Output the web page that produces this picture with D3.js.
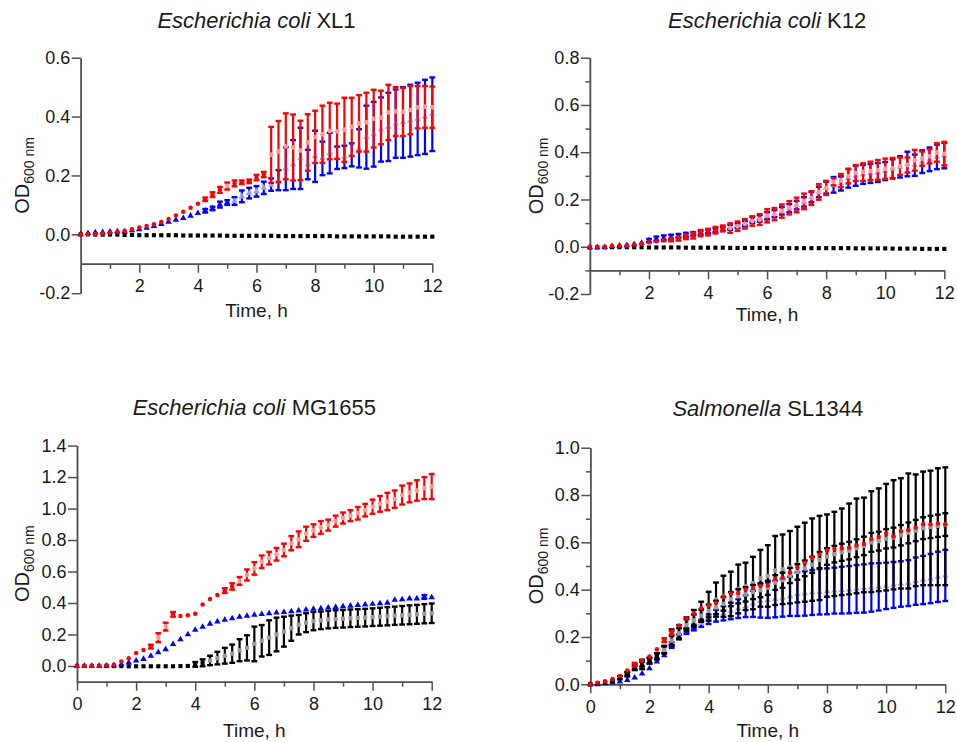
<!DOCTYPE html>
<html>
<head>
<meta charset="utf-8">
<script src="https://cdn.jsdelivr.net/npm/d3@7"></script>
<style>
  body { margin: 0; background: #fff; }
  svg text { font-family: "Liberation Sans", Arial, Helvetica, sans-serif; fill: #1a1a1a; }
</style>
</head>
<body>
<svg id="chart" width="957" height="742"></svg>
<script>
// Sampling times (h)
const hours = [0,0.25,0.5,0.75,1,1.25,1.5,1.75,2,2.25,2.5,2.75,3,3.25,3.5,3.75,
  4,4.25,4.5,4.75,5,5.25,5.5,5.75,6,6.25,6.5,6.75,7,7.25,7.5,7.75,
  8,8.25,8.5,8.75,9,9.25,9.5,9.75,10,10.25,10.5,10.75,11,11.25,11.5,11.75,12];

// Strain titles: italic genus/species part, then strain designation
const strainTitles = [
  ["Escherichia coli", " XL1"],
  ["Escherichia coli", " K12"],
  ["Escherichia coli", " MG1655"],
  ["Salmonella", " SL1344"]
];

// ---- E. coli XL1 (OD600 mean and SD) ----
const xl1Red = [0,0.001,0.001,0.003,0.006,0.009,0.012,0.017,0.023,0.028,0.034,0.042,0.052,0.064,0.077,0.09,
  0.104,0.119,0.135,0.151,0.164,0.173,0.177,0.18,0.193,0.203,0.27,0.281,0.299,0.295,0.285,0.312,
  0.331,0.34,0.351,0.35,0.355,0.365,0.377,0.381,0.393,0.397,0.414,0.417,0.416,0.422,0.432,0.433,0.432];
const xl1RedSd = [0.002,0.002,0.002,0.002,0.002,0.002,0.002,0.002,0.003,0.003,0.003,0.003,0.003,0.003,0.003,0.003,
  0.004,0.006,0.008,0.01,0.012,0.01,0.006,0.006,0.009,0.009,0.095,0.104,0.112,0.112,0.101,0.096,
  0.089,0.097,0.096,0.094,0.109,0.099,0.096,0.1,0.098,0.091,0.094,0.083,0.082,0.082,0.072,0.071,0.07];
const xl1Blue = [0,0.004,0.006,0.007,0.009,0.01,0.009,0.013,0.017,0.022,0.028,0.035,0.042,0.049,0.055,0.063,
  0.072,0.08,0.088,0.101,0.108,0.113,0.129,0.14,0.146,0.158,0.169,0.184,0.223,0.237,0.258,0.237,
  0.265,0.258,0.276,0.26,0.263,0.27,0.292,0.33,0.34,0.356,0.365,0.376,0.38,0.386,0.392,0.399,0.408];
const xl1BlueSd = [0.002,0.003,0.003,0.003,0.003,0.003,0.003,0.003,0.003,0.003,0.004,0.003,0.003,0.005,0.005,0.003,
  0.005,0.006,0.006,0.01,0.008,0.013,0.02,0.018,0.018,0.021,0.021,0.034,0.073,0.083,0.104,0.05,
  0.087,0.057,0.069,0.038,0.038,0.039,0.065,0.107,0.11,0.109,0.116,0.116,0.12,0.122,0.123,0.126,0.125];
const xl1Black = [0,0,-0.001,-0.001,-0.001,-0.001,-0.002,-0.002,-0.003,-0.003,-0.003,-0.003,-0.003,-0.003,-0.004,-0.004,
  -0.004,-0.004,-0.004,-0.004,-0.005,-0.005,-0.005,-0.005,-0.005,-0.005,-0.005,-0.006,-0.006,-0.006,-0.006,-0.006,
  -0.006,-0.006,-0.006,-0.007,-0.007,-0.007,-0.007,-0.007,-0.007,-0.007,-0.007,-0.008,-0.008,-0.008,-0.008,-0.008,-0.008];
const xl1BlackSd = [0.001,0.001,0.001,0.001,0.001,0.001,0.001,0.001,0.001,0.001,0.001,0.001,0.001,0.001,0.001,0.001,
  0.001,0.001,0.001,0.001,0.001,0.001,0.001,0.001,0.001,0.001,0.001,0.001,0.001,0.001,0.001,0.001,
  0.001,0.001,0.001,0.001,0.001,0.001,0.001,0.001,0.001,0.001,0.001,0.001,0.001,0.001,0.001,0.001,0.001];

// ---- E. coli K12 ----
const k12Red = [0,0,0,0.003,0.004,0.006,0.009,0.013,0.019,0.023,0.027,0.03,0.034,0.042,0.047,0.058,
  0.062,0.07,0.078,0.079,0.087,0.097,0.109,0.115,0.131,0.138,0.151,0.165,0.177,0.192,0.206,0.232,
  0.249,0.275,0.28,0.298,0.312,0.316,0.321,0.325,0.33,0.332,0.341,0.346,0.366,0.373,0.383,0.399,0.394];
const k12RedSd = [0.004,0.004,0.004,0.004,0.004,0.004,0.004,0.005,0.005,0.005,0.006,0.007,0.008,0.01,0.012,0.013,
  0.014,0.014,0.012,0.02,0.02,0.02,0.02,0.023,0.028,0.026,0.028,0.028,0.031,0.033,0.029,0.033,
  0.03,0.015,0.028,0.03,0.034,0.037,0.039,0.042,0.043,0.044,0.037,0.032,0.044,0.03,0.03,0.039,0.05];
const k12Blue = [-0.003,-0.003,-0.002,0.002,0.004,0.006,0.01,0.016,0.026,0.033,0.036,0.04,0.045,0.05,0.054,0.059,
  0.064,0.069,0.075,0.082,0.089,0.097,0.113,0.12,0.131,0.14,0.152,0.163,0.176,0.19,0.21,0.232,
  0.25,0.262,0.268,0.29,0.3,0.306,0.31,0.314,0.32,0.33,0.338,0.35,0.345,0.36,0.37,0.38,0.386];
const k12BlueSd = [0.006,0.006,0.006,0.005,0.004,0.005,0.005,0.006,0.007,0.01,0.012,0.011,0.009,0.009,0.008,0.008,
  0.008,0.008,0.009,0.01,0.01,0.011,0.012,0.014,0.015,0.015,0.016,0.017,0.018,0.02,0.022,0.022,
  0.025,0.033,0.03,0.04,0.042,0.04,0.04,0.04,0.038,0.04,0.045,0.052,0.045,0.048,0.05,0.052,0.054];
const k12Black = [-0.003,-0.003,-0.003,-0.002,-0.002,-0.002,-0.002,-0.002,-0.003,-0.003,-0.003,-0.003,-0.003,-0.004,-0.004,-0.004,
  -0.004,-0.004,-0.004,-0.005,-0.005,-0.005,-0.005,-0.005,-0.005,-0.005,-0.005,-0.006,-0.006,-0.006,-0.006,-0.006,
  -0.006,-0.006,-0.006,-0.006,-0.007,-0.007,-0.007,-0.007,-0.007,-0.008,-0.008,-0.008,-0.008,-0.009,-0.009,-0.009,-0.009];
const k12BlackSd = [0.001,0.001,0.001,0.001,0.001,0.001,0.001,0.001,0.001,0.001,0.001,0.001,0.001,0.001,0.001,0.001,
  0.001,0.001,0.001,0.001,0.001,0.001,0.001,0.001,0.001,0.001,0.001,0.001,0.001,0.001,0.001,0.001,
  0.001,0.001,0.001,0.001,0.001,0.002,0.002,0.002,0.002,0.002,0.002,0.002,0.002,0.003,0.003,0.003,0.004];

// ---- E. coli MG1655 ----
const mgRed = [0,0,0,0.001,0.004,0.008,0.028,0.049,0.083,0.102,0.123,0.18,0.25,0.328,0.318,0.322,
  0.332,0.39,0.426,0.451,0.479,0.505,0.54,0.578,0.62,0.662,0.685,0.71,0.737,0.78,0.805,0.84,
  0.86,0.88,0.895,0.92,0.94,0.955,0.97,0.99,1.012,1.03,1.045,1.06,1.086,1.1,1.115,1.13,1.14];
const mgRedSd = [0.002,0.002,0.002,0.002,0.003,0.003,0.003,0.003,0.01,0.01,0.012,0.028,0.025,0.015,0.01,0.008,
  0.005,0.005,0.01,0.006,0.015,0.02,0.025,0.035,0.04,0.04,0.04,0.04,0.04,0.045,0.05,0.045,
  0.04,0.04,0.035,0.035,0.035,0.035,0.04,0.04,0.045,0.05,0.055,0.055,0.06,0.06,0.065,0.07,0.08];
const mgBlue = [0,0,0,0,0.002,0.004,0.01,0.021,0.034,0.044,0.064,0.087,0.106,0.138,0.169,0.2,
  0.229,0.248,0.268,0.282,0.293,0.302,0.311,0.318,0.324,0.329,0.334,0.338,0.342,0.346,0.352,0.358,
  0.362,0.366,0.37,0.374,0.378,0.382,0.386,0.39,0.394,0.397,0.401,0.42,0.423,0.428,0.428,0.438,0.435];
const mgBlueSd = [0.002,0.002,0.002,0.002,0.002,0.002,0.002,0.002,0.003,0.003,0.003,0.003,0.003,0.008,0.004,0.01,
  0.01,0.008,0.003,0.003,0.003,0.003,0.003,0.003,0.003,0.003,0.003,0.003,0.003,0.003,0.003,0.003,
  0.003,0.003,0.003,0.003,0.003,0.003,0.003,0.003,0.003,0.003,0.003,0.01,0.01,0.01,0.01,0.012,0.004];
const mgBlack = [0,0,0,0,0,-0.001,-0.001,-0.002,-0.002,-0.002,-0.002,-0.002,-0.002,-0.002,-0.001,0,
  0.01,0.02,0.035,0.05,0.065,0.078,0.1,0.115,0.14,0.16,0.18,0.2,0.218,0.24,0.262,0.275,
  0.285,0.29,0.295,0.298,0.3,0.303,0.305,0.307,0.31,0.313,0.316,0.319,0.322,0.325,0.328,0.332,0.335];
const mgBlackSd = [0.002,0.002,0.002,0.002,0.002,0.002,0.002,0.002,0.002,0.002,0.002,0.002,0.002,0.003,0.005,0.008,
  0.015,0.022,0.03,0.04,0.05,0.058,0.07,0.08,0.11,0.1,0.11,0.107,0.095,0.08,0.062,0.06,
  0.058,0.056,0.056,0.056,0.056,0.056,0.056,0.056,0.056,0.057,0.058,0.058,0.059,0.06,0.06,0.061,0.062];

// ---- Salmonella SL1344 ----
const slRed = [0,0.007,0.013,0.022,0.035,0.058,0.083,0.1,0.117,0.148,0.187,0.218,0.249,0.279,0.3,0.321,
  0.334,0.345,0.37,0.384,0.386,0.401,0.407,0.415,0.418,0.446,0.451,0.472,0.494,0.514,0.535,0.549,
  0.565,0.572,0.575,0.577,0.587,0.593,0.614,0.624,0.637,0.625,0.648,0.652,0.663,0.676,0.676,0.68,0.676];
const slRedSd = [0.002,0.003,0.004,0.004,0.005,0.005,0.008,0.006,0.005,0.006,0.008,0.008,0.006,0.006,0.005,0.005,
  0.005,0.005,0.005,0.005,0.005,0.005,0.005,0.005,0.005,0.005,0.005,0.005,0.005,0.005,0.005,0.005,
  0.005,0.005,0.005,0.005,0.005,0.005,0.005,0.005,0.005,0.005,0.005,0.005,0.005,0.005,0.005,0.005,0.005];
const slBlue = [0,0,0.004,0.008,0.011,0.018,0.028,0.045,0.067,0.096,0.122,0.166,0.201,0.223,0.24,0.258,
  0.275,0.29,0.3,0.31,0.32,0.33,0.34,0.352,0.356,0.36,0.365,0.372,0.381,0.384,0.388,0.391,
  0.393,0.396,0.398,0.4,0.403,0.405,0.409,0.412,0.416,0.42,0.424,0.428,0.436,0.441,0.447,0.454,0.46];
const slBlueSd = [0.002,0.002,0.003,0.003,0.003,0.003,0.003,0.003,0.003,0.003,0.003,0.012,0.009,0.01,0.012,0.015,
  0.02,0.025,0.03,0.035,0.04,0.046,0.055,0.07,0.075,0.077,0.079,0.083,0.092,0.094,0.095,0.096,
  0.097,0.097,0.099,0.1,0.101,0.102,0.102,0.1,0.098,0.097,0.096,0.097,0.1,0.102,0.104,0.106,0.108];
const slBlackA = [0,0.002,0.006,0.013,0.028,0.042,0.072,0.084,0.1,0.12,0.148,0.199,0.22,0.26,0.279,0.307,
  0.33,0.358,0.372,0.382,0.403,0.414,0.428,0.448,0.458,0.481,0.486,0.495,0.506,0.516,0.527,0.534,
  0.544,0.551,0.56,0.572,0.585,0.589,0.603,0.611,0.622,0.632,0.638,0.648,0.651,0.659,0.661,0.666,0.668];
const slBlackASd = [0.002,0.003,0.004,0.005,0.007,0.009,0.012,0.02,0.012,0.012,0.015,0.033,0.03,0.023,0.035,0.042,
  0.061,0.072,0.087,0.094,0.103,0.1,0.111,0.12,0.13,0.146,0.147,0.153,0.16,0.167,0.174,0.178,
  0.174,0.178,0.183,0.192,0.2,0.2,0.213,0.217,0.225,0.231,0.233,0.243,0.236,0.24,0.242,0.247,0.249];
const slBlackB = [0,0.003,0.008,0.015,0.03,0.045,0.07,0.085,0.1,0.118,0.145,0.185,0.215,0.25,0.27,0.29,
  0.31,0.325,0.34,0.36,0.372,0.38,0.39,0.398,0.408,0.43,0.44,0.46,0.475,0.49,0.505,0.525,
  0.54,0.55,0.558,0.565,0.575,0.585,0.6,0.605,0.615,0.62,0.63,0.64,0.65,0.66,0.665,0.67,0.675];
const slBlackBSd = [0.002,0.003,0.004,0.005,0.006,0.007,0.008,0.01,0.012,0.013,0.015,0.02,0.022,0.025,0.025,0.026,
  0.027,0.028,0.029,0.03,0.03,0.03,0.03,0.03,0.03,0.031,0.032,0.032,0.033,0.033,0.034,0.034,
  0.035,0.035,0.036,0.037,0.038,0.039,0.04,0.04,0.041,0.042,0.043,0.044,0.045,0.046,0.047,0.047,0.048];

// Axis tick values
const xTicksFrom2 = [2,4,6,8,10,12];
const xTicksFrom0 = [0,2,4,6,8,10,12];
const xMinorTicks = [1,3,5,7,9,11];
const yTicksXL1 = [-0.2,0,0.2,0.4,0.6];
const yTicksK12 = [-0.2,0,0.2,0.4,0.6,0.8];
const yMinorK12 = [-0.1,0.1,0.3,0.5,0.7];
const yTicksMG = [0,0.2,0.4,0.6,0.8,1.0,1.2,1.4];
const yTicksSL = [0,0.2,0.4,0.6,0.8,1.0];
const yMinorSL = [0.1,0.3,0.5,0.7,0.9];

const RED = "#ff0000", BLUE = "#0000ff", BLACK = "#000000";

const panels = [
  { title: strainTitles[0], yDomain: [-0.2, 0.6], xAxisAt: -0.1,
    xTicks: xTicksFrom2, yTicks: yTicksXL1, yMinor: [],
    box: { x0: 80.7, x1: 432.3, yTop: 57.7, yBot: 293.2, titleY: 28, xTitleY: 317, yTitleX: 28.5 },
    series: [
      { m: xl1Blue, s: xl1BlueSd, c: BLUE, sym: "triangle" },
      { m: xl1Black, s: xl1BlackSd, c: BLACK, sym: "square" },
      { m: xl1Red, s: xl1RedSd, c: RED, sym: "circle" } ] },
  { title: strainTitles[1], yDomain: [-0.2, 0.8], xAxisAt: -0.1,
    xTicks: xTicksFrom2, yTicks: yTicksK12, yMinor: yMinorK12,
    box: { x0: 589.9, x1: 944.3, yTop: 57.7, yBot: 294, titleY: 28, xTitleY: 320.5, yTitleX: 542.7 },
    series: [
      { m: k12Black, s: k12BlackSd, c: BLACK, sym: "square" },
      { m: k12Blue, s: k12BlueSd, c: BLUE, sym: "triangle" },
      { m: k12Red, s: k12RedSd, c: RED, sym: "circle" } ] },
  { title: strainTitles[2], yDomain: [-0.1, 1.4], xAxisAt: -0.1,
    xTicks: xTicksFrom0, yTicks: yTicksMG, yMinor: [],
    box: { x0: 77, x1: 431.7, yTop: 445.6, yBot: 681.7, titleY: 415, xTitleY: 737, yTitleX: 28.5 },
    series: [
      { m: mgBlack, s: mgBlackSd, c: BLACK, sym: "square" },
      { m: mgBlue, s: mgBlueSd, c: BLUE, sym: "triangle" },
      { m: mgRed, s: mgRedSd, c: RED, sym: "circle" } ] },
  { title: strainTitles[3], yDomain: [0, 1.0], xAxisAt: 0,
    xTicks: xTicksFrom0, yTicks: yTicksSL, yMinor: yMinorSL,
    box: { x0: 590.3, x1: 945.3, yTop: 447.7, yBot: 684.3, titleY: 416, xTitleY: 736.5, yTitleX: 543 },
    series: [
      { m: slBlue, s: slBlueSd, c: BLUE, sym: "triangle" },
      { m: slBlackA, s: slBlackASd, c: BLACK, sym: "square" },
      { m: slBlackB, s: slBlackBSd, c: BLACK, sym: "square" },
      { m: slRed, s: slRedSd, c: RED, sym: "circle" } ] }
];

const svg = d3.select("#chart");
const AXIS = "#505050";
const symbolTypes = { circle: d3.symbolCircle, triangle: d3.symbolTriangle, square: d3.symbolSquare };
const symbolSizes = { circle: 16, triangle: 18, square: 17 };

function styleAxis(g) {
  g.selectAll(".domain").attr("stroke", AXIS).attr("stroke-width", 1.5);
  g.selectAll(".tick line").attr("stroke", AXIS).attr("stroke-width", 1.5);
  g.selectAll(".tick text").attr("font-size", 18).attr("fill", "#1a1a1a");
}

panels.forEach(p => {
  const b = p.box;
  const x = d3.scaleLinear().domain([0, 12]).range([b.x0, b.x1]);
  const y = d3.scaleLinear().domain(p.yDomain).range([b.yBot, b.yTop]);
  const g = svg.append("g");

  // Title: italic organism name followed by upright strain name
  const t = g.append("text")
    .attr("x", (b.x0 + b.x1) / 2).attr("y", b.titleY)
    .attr("text-anchor", "middle").attr("font-size", 22);
  t.append("tspan").attr("font-style", "italic").text(p.title[0]);
  t.append("tspan").text(p.title[1]);

  // Y axis (major + minor ticks)
  const yMinorG = g.append("g").attr("transform", `translate(${b.x0},0)`)
    .call(d3.axisLeft(y).tickValues(p.yMinor).tickSize(4.5).tickSizeOuter(0).tickFormat(""));
  styleAxis(yMinorG);
  const yAxisG = g.append("g").attr("transform", `translate(${b.x0},0)`)
    .call(d3.axisLeft(y).tickValues(p.yTicks).tickSize(9).tickSizeOuter(0).tickPadding(1.5)
      .tickFormat(d => d.toFixed(1)));
  styleAxis(yAxisG);

  // X axis (major + minor ticks)
  const xY = y(p.xAxisAt);
  const xMinorG = g.append("g").attr("transform", `translate(0,${xY})`)
    .call(d3.axisBottom(x).tickValues(xMinorTicks).tickSize(5).tickSizeOuter(0).tickFormat(""));
  styleAxis(xMinorG);
  const xAxisG = g.append("g").attr("transform", `translate(0,${xY})`)
    .call(d3.axisBottom(x).tickValues(p.xTicks).tickSize(9).tickSizeOuter(0).tickPadding(6.5)
      .tickFormat(d3.format("d")));
  styleAxis(xAxisG);

  // Axis titles
  g.append("text").attr("x", (b.x0 + b.x1) / 2).attr("y", b.xTitleY)
    .attr("text-anchor", "middle").attr("font-size", 19).text("Time, h");
  const yc = (b.yTop + b.yBot) / 2;
  const yl = g.append("text")
    .attr("transform", `translate(${b.yTitleX},${yc}) rotate(-90)`)
    .attr("text-anchor", "middle").attr("font-size", 20);
  yl.append("tspan").text("OD");
  yl.append("tspan").attr("font-size", 14).attr("dy", 5).text("600 nm");

  // Data series: error bars with caps (only where they reach past the symbol), then markers
  p.series.forEach(s => {
    const pts = hours.map((h, i) => ({ h, m: s.m[i], sd: s.s[i] }));
    const halfPx = d => Math.abs(y(d.m - d.sd) - y(d.m + d.sd)) / 2;
    const withBar = pts.filter(d => halfPx(d) > 1.6);
    const sg = g.append("g");
    sg.selectAll("line.bar").data(withBar).join("line").attr("class", "bar")
      .attr("x1", d => x(d.h)).attr("x2", d => x(d.h))
      .attr("y1", d => y(d.m + d.sd)).attr("y2", d => y(d.m - d.sd))
      .attr("stroke", s.c).attr("stroke-width", 2.2);
    ["up", "down"].forEach(side => {
      sg.selectAll(`line.cap-${side}`).data(withBar).join("line").attr("class", `cap-${side}`)
        .attr("x1", d => x(d.h) - 2.9).attr("x2", d => x(d.h) + 2.9)
        .attr("y1", d => y(side === "up" ? d.m + d.sd : d.m - d.sd))
        .attr("y2", d => y(side === "up" ? d.m + d.sd : d.m - d.sd))
        .attr("stroke", s.c).attr("stroke-width", 2.4);
    });
    const sym = d3.symbol().type(symbolTypes[s.sym]).size(symbolSizes[s.sym]);
    const long = d => halfPx(d) > 3.5;
    sg.selectAll("path.bg").data(pts.filter(long)).join("path").attr("class", "bg")
      .attr("transform", d => `translate(${x(d.h)},${y(d.m)})`)
      .attr("d", sym).attr("fill", "#fff");
    sg.selectAll("path.mk").data(pts).join("path").attr("class", "mk")
      .attr("transform", d => `translate(${x(d.h)},${y(d.m)})`)
      .attr("d", sym).attr("fill", s.c)
      .attr("fill-opacity", d => long(d) ? 0.4 : 1);
  });
});
</script>
</body>
</html>
